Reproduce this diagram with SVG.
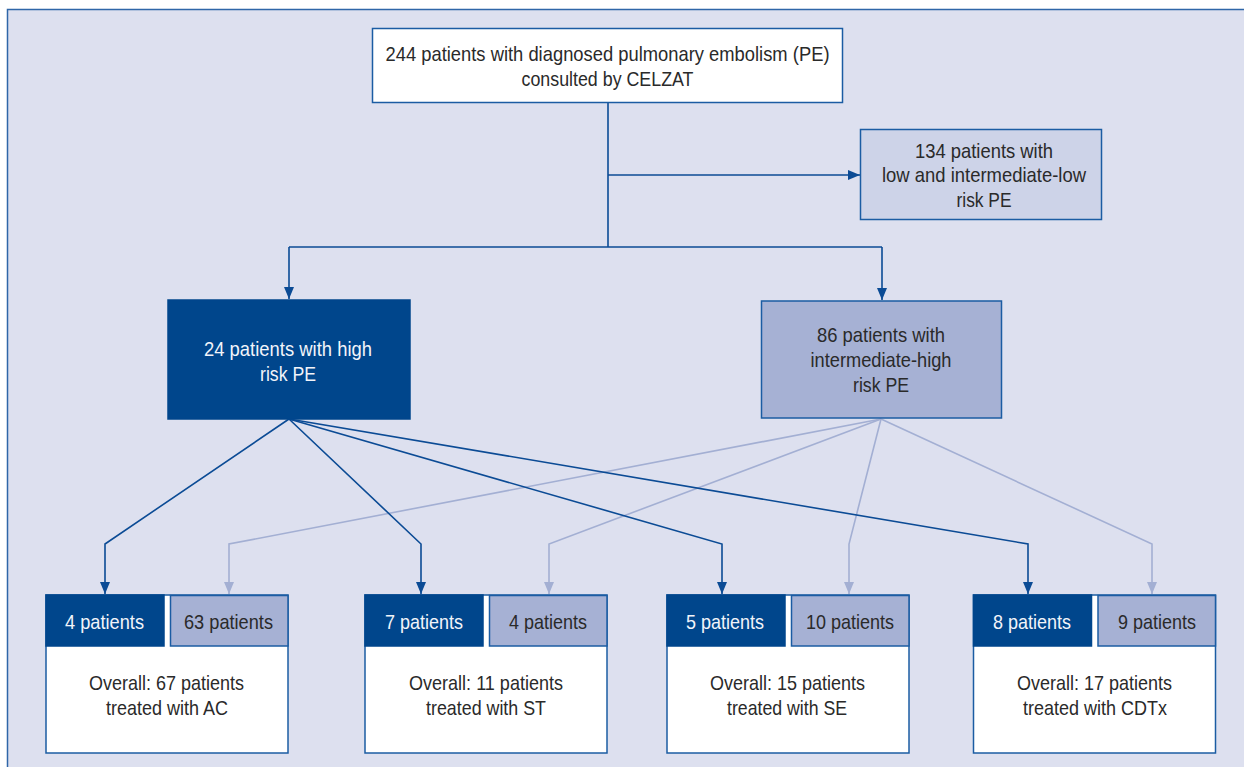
<svg xmlns="http://www.w3.org/2000/svg" width="1244" height="767" viewBox="0 0 1244 767">
<style>
  text { font-family: "Liberation Sans", Arial, sans-serif; font-size: 21px; text-anchor: middle; fill: #2a2a2a; }
  .w { fill: #f2f4fa; }
  .dk { fill: #00468c; stroke: #00468c; stroke-width: 1.5; }
  .lt { fill: #a6b1d4; stroke: #1b5ca3; stroke-width: 1.5; }
  .wh { fill: #ffffff; stroke: #1b5ca3; stroke-width: 1.5; }
  .pale { fill: #cdd3e8; stroke: #1b5ca3; stroke-width: 1.5; }
  .ld { fill: none; stroke: #0b4b95; stroke-width: 1.6; }
  .ll { fill: none; stroke: #a3afd3; stroke-width: 1.6; }
</style>
<defs>
  <marker id="ad" viewBox="0 0 12 10" refX="12" refY="5" markerWidth="12" markerHeight="10" markerUnits="userSpaceOnUse" orient="auto">
    <path d="M0,0 L12,5 L0,10 z" fill="#0b4b95"/>
  </marker>
  <marker id="al" viewBox="0 0 12 10" refX="12" refY="5" markerWidth="12" markerHeight="10" markerUnits="userSpaceOnUse" orient="auto">
    <path d="M0,0 L12,5 L0,10 z" fill="#a3afd3"/>
  </marker>
</defs>
<rect x="0" y="0" width="1244" height="767" fill="#ffffff"/>
<rect x="7.5" y="9.5" width="1250" height="770" fill="#dde0ef" stroke="#2f66a8" stroke-width="1.5"/>

<g id="connectors">
  <path class="ld" d="M608,102 V247"/>
  <path class="ld" d="M608,175 H860" marker-end="url(#ad)"/>
  <path class="ld" d="M289,247 H882"/>
  <path class="ld" d="M289,247 V299" marker-end="url(#ad)"/>
  <path class="ld" d="M882,247 V300" marker-end="url(#ad)"/>

  <path class="ll" d="M881,419 L229,544 V594" marker-end="url(#al)"/>
  <path class="ll" d="M881,419 L549,544 V594" marker-end="url(#al)"/>
  <path class="ll" d="M881,419 L849,544 V594" marker-end="url(#al)"/>
  <path class="ll" d="M881,419 L1152,544 V594" marker-end="url(#al)"/>

  <path class="ld" d="M289,419 L105,544 V594" marker-end="url(#ad)"/>
  <path class="ld" d="M289,419 L421,544 V594" marker-end="url(#ad)"/>
  <path class="ld" d="M289,419 L722,544 V594" marker-end="url(#ad)"/>
  <path class="ld" d="M289,419 L1028,544 V594" marker-end="url(#ad)"/>
</g>

<g id="n-total">
  <rect class="wh" x="372.5" y="28.5" width="470" height="74"/>
  <text x="607.5" y="61" textLength="444" lengthAdjust="spacingAndGlyphs">244 patients with diagnosed pulmonary embolism (PE)</text>
  <text x="607.5" y="86" textLength="172" lengthAdjust="spacingAndGlyphs">consulted by CELZAT</text>
</g>

<g id="n-low">
  <rect class="pale" x="860.5" y="129.5" width="241" height="90"/>
  <text x="984" y="158" textLength="138" lengthAdjust="spacingAndGlyphs">134 patients with</text>
  <text x="984" y="182" textLength="204" lengthAdjust="spacingAndGlyphs">low and intermediate-low</text>
  <text x="984" y="207" textLength="55" lengthAdjust="spacingAndGlyphs">risk PE</text>
</g>

<g id="n-high">
  <rect class="dk" x="168" y="300" width="242" height="119"/>
  <text class="w" x="288" y="356" textLength="168" lengthAdjust="spacingAndGlyphs">24 patients with high</text>
  <text class="w" x="288" y="381" textLength="56" lengthAdjust="spacingAndGlyphs">risk PE</text>
</g>

<g id="n-inthigh">
  <rect class="lt" x="761.5" y="301" width="240" height="117"/>
  <text x="881" y="342" textLength="128" lengthAdjust="spacingAndGlyphs">86 patients with</text>
  <text x="881" y="367" textLength="141" lengthAdjust="spacingAndGlyphs">intermediate-high</text>
  <text x="881" y="392" textLength="56" lengthAdjust="spacingAndGlyphs">risk PE</text>
</g>

<g id="n-ac">
  <rect class="wh" x="46" y="595" width="242" height="158"/>
  <rect class="dk" x="46" y="595" width="118" height="51"/>
  <rect class="lt" x="170.5" y="595.5" width="117.5" height="50.5"/>
  <text class="w" x="104.5" y="629" textLength="79" lengthAdjust="spacingAndGlyphs">4 patients</text>
  <text x="228.5" y="629" textLength="89" lengthAdjust="spacingAndGlyphs">63 patients</text>
  <text x="166.5" y="690" textLength="155" lengthAdjust="spacingAndGlyphs">Overall: 67 patients</text>
  <text x="167" y="715" textLength="122" lengthAdjust="spacingAndGlyphs">treated with AC</text>
</g>

<g id="n-st">
  <rect class="wh" x="365" y="595" width="242" height="158"/>
  <rect class="dk" x="365" y="595" width="118" height="51"/>
  <rect class="lt" x="489.5" y="595.5" width="117.5" height="50.5"/>
  <text class="w" x="424" y="629" textLength="78" lengthAdjust="spacingAndGlyphs">7 patients</text>
  <text x="548" y="629" textLength="78" lengthAdjust="spacingAndGlyphs">4 patients</text>
  <text x="486" y="690" textLength="154" lengthAdjust="spacingAndGlyphs">Overall: 11 patients</text>
  <text x="486" y="715" textLength="120" lengthAdjust="spacingAndGlyphs">treated with ST</text>
</g>

<g id="n-se">
  <rect class="wh" x="667" y="595" width="242" height="158"/>
  <rect class="dk" x="667" y="595" width="118" height="51"/>
  <rect class="lt" x="791.5" y="595.5" width="117.5" height="50.5"/>
  <text class="w" x="725" y="629" textLength="78" lengthAdjust="spacingAndGlyphs">5 patients</text>
  <text x="850" y="629" textLength="88" lengthAdjust="spacingAndGlyphs">10 patients</text>
  <text x="787.5" y="690" textLength="155" lengthAdjust="spacingAndGlyphs">Overall: 15 patients</text>
  <text x="787" y="715" textLength="120" lengthAdjust="spacingAndGlyphs">treated with SE</text>
</g>

<g id="n-cdt">
  <rect class="wh" x="973.5" y="595" width="242" height="158"/>
  <rect class="dk" x="973.5" y="595" width="118" height="51"/>
  <rect class="lt" x="1098" y="595.5" width="117.5" height="50.5"/>
  <text class="w" x="1032" y="629" textLength="78" lengthAdjust="spacingAndGlyphs">8 patients</text>
  <text x="1157" y="629" textLength="78" lengthAdjust="spacingAndGlyphs">9 patients</text>
  <text x="1094.5" y="690" textLength="155" lengthAdjust="spacingAndGlyphs">Overall: 17 patients</text>
  <text x="1095" y="715" textLength="144" lengthAdjust="spacingAndGlyphs">treated with CDTx</text>
</g>
</svg>
